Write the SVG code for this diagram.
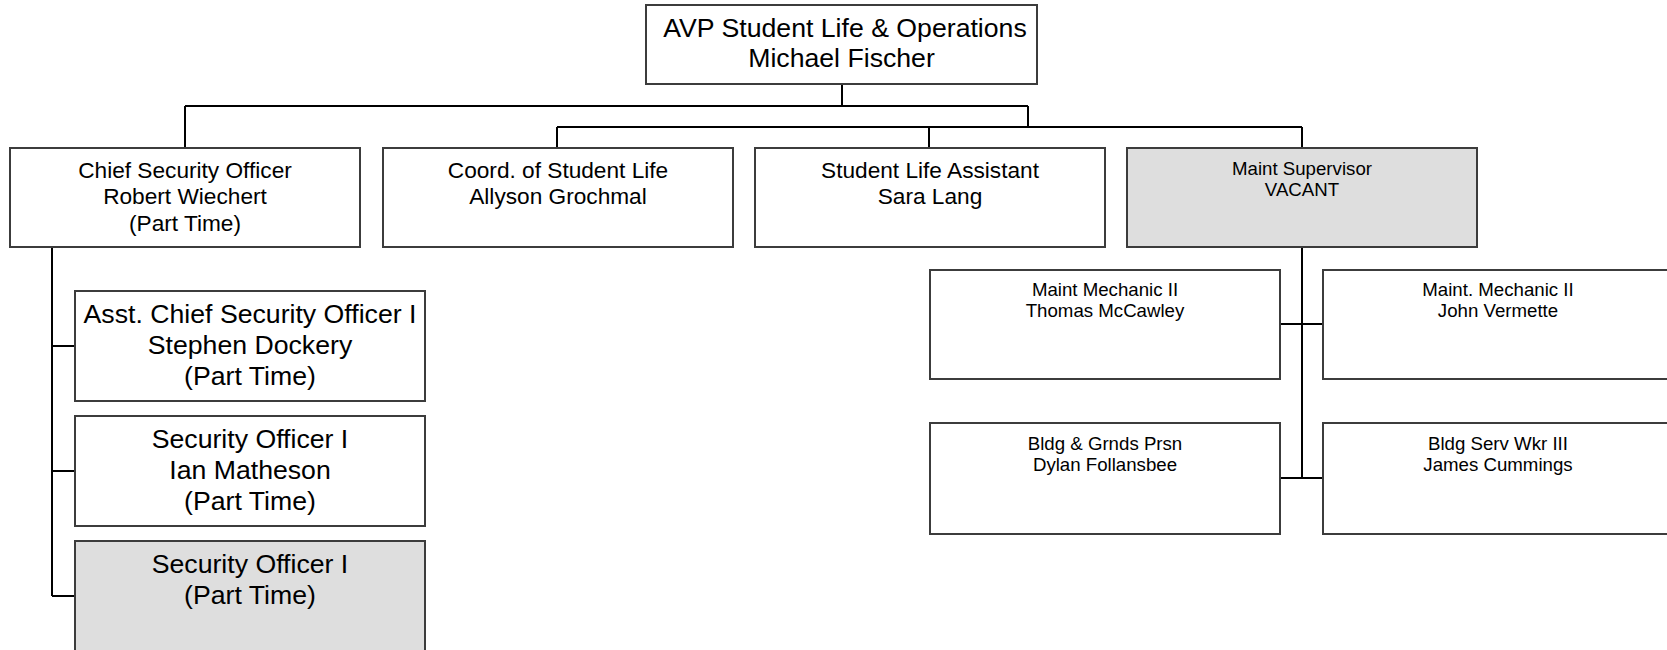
<svg xmlns="http://www.w3.org/2000/svg" width="1667" height="650" viewBox="0 0 1667 650">
  <style>
    .box { fill: #ffffff; stroke: #3c3c3c; stroke-width: 2; }
    .vacant { fill: #dedede; }
    .t { font-family: "Liberation Sans", Arial, sans-serif; fill: #000; text-anchor: middle; }
    .lg { font-size: 26.67px; }
    .md { font-size: 22.67px; }
    .sm { font-size: 18.67px; }
    .wire { fill: none; stroke: #000; stroke-width: 2; }
  </style>
  <rect width="1667" height="650" fill="#ffffff"/>

  <g id="connectors">
    <path class="wire" d="M842 84V106M185 106H1028M185 106V148M1028 106V127M557 127H1302M557 127V148M929 127V148M1302 127V148"/>
    <path class="wire" d="M52 247V596M52 346H75M52 471H75M52 596H75"/>
    <path class="wire" d="M1302 247V478M1280 324H1323M1280 478H1323"/>
  </g>

  <g id="avp">
    <rect class="box" x="646" y="5" width="391" height="79"/>
    <text class="t lg" x="845" y="37">AVP Student Life &amp; Operations</text>
    <text class="t lg" x="841.5" y="67">Michael Fischer</text>
  </g>

  <g id="chief-security">
    <rect class="box" x="10" y="148" width="350" height="99"/>
    <text class="t md" x="185" y="177.5">Chief Security Officer</text>
    <text class="t md" x="185" y="204">Robert Wiechert</text>
    <text class="t md" x="185" y="230.5">(Part Time)</text>
  </g>

  <g id="coord-student-life">
    <rect class="box" x="383" y="148" width="350" height="99"/>
    <text class="t md" x="558" y="177.5">Coord. of Student Life</text>
    <text class="t md" x="558" y="204">Allyson Grochmal</text>
  </g>

  <g id="student-life-assistant">
    <rect class="box" x="755" y="148" width="350" height="99"/>
    <text class="t md" x="930" y="177.5">Student Life Assistant</text>
    <text class="t md" x="930" y="204">Sara Lang</text>
  </g>

  <g id="maint-supervisor">
    <rect class="box vacant" x="1127" y="148" width="350" height="99"/>
    <text class="t sm" x="1302" y="174.5">Maint Supervisor</text>
    <text class="t sm" x="1302" y="196">VACANT</text>
  </g>

  <g id="asst-chief-security">
    <rect class="box" x="75" y="291" width="350" height="110"/>
    <text class="t lg" x="250" y="322.5">Asst. Chief Security Officer I</text>
    <text class="t lg" x="250" y="353.5">Stephen Dockery</text>
    <text class="t lg" x="250" y="384.5">(Part Time)</text>
  </g>

  <g id="security-officer-matheson">
    <rect class="box" x="75" y="416" width="350" height="110"/>
    <text class="t lg" x="250" y="447.5">Security Officer I</text>
    <text class="t lg" x="250" y="478.5">Ian Matheson</text>
    <text class="t lg" x="250" y="509.5">(Part Time)</text>
  </g>

  <g id="security-officer-vacant">
    <rect class="box vacant" x="75" y="541" width="350" height="110"/>
    <text class="t lg" x="250" y="572.5">Security Officer I</text>
    <text class="t lg" x="250" y="603.5">(Part Time)</text>
  </g>

  <g id="maint-mechanic-mccawley">
    <rect class="box" x="930" y="270" width="350" height="109"/>
    <text class="t sm" x="1105" y="296">Maint Mechanic II</text>
    <text class="t sm" x="1105" y="317">Thomas McCawley</text>
  </g>

  <g id="maint-mechanic-vermette">
    <rect class="box" x="1323" y="270" width="350" height="109"/>
    <text class="t sm" x="1498" y="296">Maint. Mechanic II</text>
    <text class="t sm" x="1498" y="317">John Vermette</text>
  </g>

  <g id="bldg-grounds">
    <rect class="box" x="930" y="423" width="350" height="111"/>
    <text class="t sm" x="1105" y="449.5">Bldg &amp; Grnds Prsn</text>
    <text class="t sm" x="1105" y="470.5">Dylan Follansbee</text>
  </g>

  <g id="bldg-serv-worker">
    <rect class="box" x="1323" y="423" width="350" height="111"/>
    <text class="t sm" x="1498" y="449.5">Bldg Serv Wkr III</text>
    <text class="t sm" x="1498" y="470.5">James Cummings</text>
  </g>
</svg>
